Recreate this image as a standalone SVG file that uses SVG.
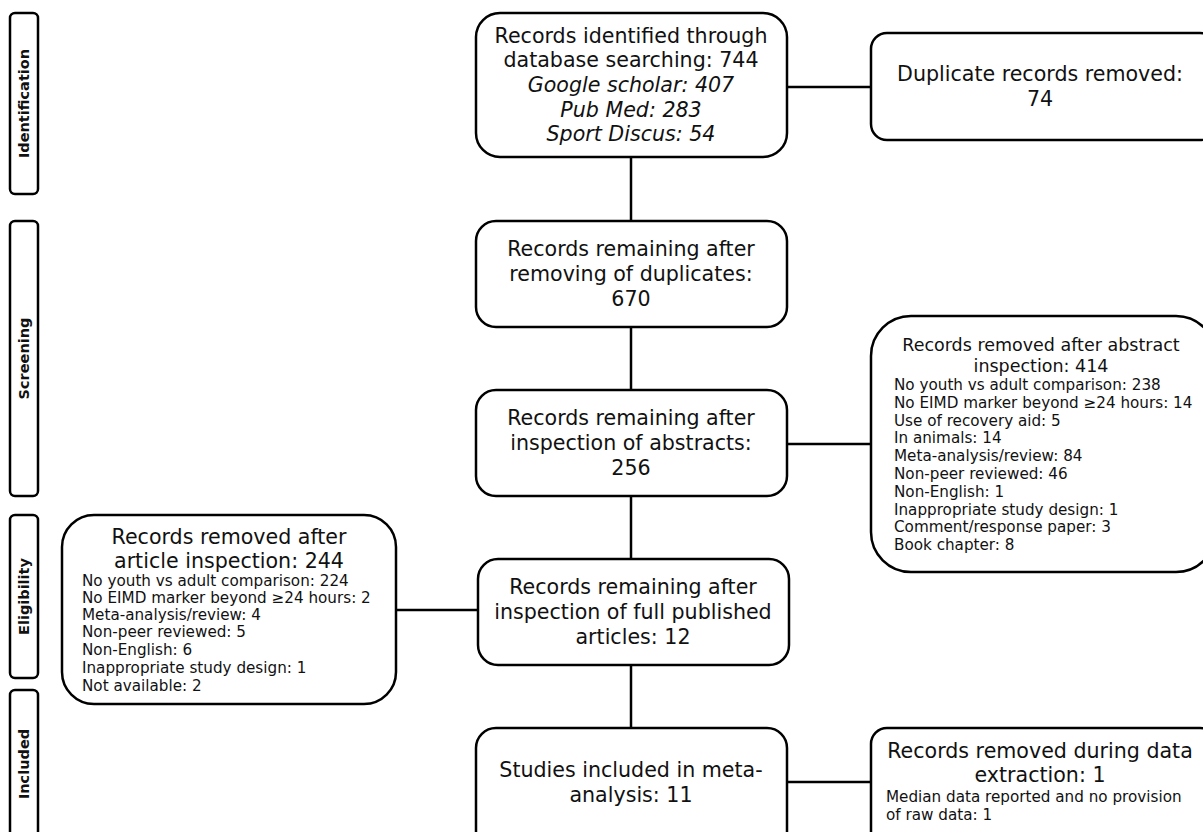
<svg xmlns="http://www.w3.org/2000/svg" width="1203" height="832" viewBox="0 0 1203 832">
<style>
  .box{fill:#fff;stroke:#000;stroke-width:2.5}
  .lab{fill:#fff;stroke:#000;stroke-width:2.5}
  .conn line{stroke:#000;stroke-width:2.5}
  text{font-family:"DejaVu Sans",Verdana,sans-serif;fill:#111}
  .m{font-size:20.6px;text-anchor:middle}
  .i{font-style:italic}
  .s{font-size:15.2px}
  .t17{font-size:17.5px;text-anchor:middle}
  .side{font-size:14.5px;font-weight:bold;text-anchor:middle}
</style>
<rect width="1203" height="832" fill="#fff"/>
<g id="conn" class="conn">
  <line x1="631" y1="157" x2="631" y2="221"/>
  <line x1="631" y1="327" x2="631" y2="390"/>
  <line x1="631" y1="496" x2="631" y2="559"/>
  <line x1="631" y1="665" x2="631" y2="728"/>
  <line x1="787" y1="87" x2="871" y2="87"/>
  <line x1="787" y1="444" x2="871" y2="444"/>
  <line x1="396" y1="610" x2="478" y2="610"/>
  <line x1="787" y1="782" x2="871" y2="782"/>
</g>
<g id="lab-identification">
  <rect class="lab" x="10" y="13" width="28" height="181" rx="5"/>
  <text class="side" transform="translate(29,103.5) rotate(-90)">Identification</text>
</g>
<g id="lab-screening">
  <rect class="lab" x="10" y="221" width="28" height="275" rx="5"/>
  <text class="side" transform="translate(29,358.5) rotate(-90)">Screening</text>
</g>
<g id="lab-eligibility">
  <rect class="lab" x="10" y="515" width="28" height="163" rx="5"/>
  <text class="side" transform="translate(29,596.5) rotate(-90)">Eligibility</text>
</g>
<g id="lab-included">
  <rect class="lab" x="10" y="690" width="28" height="160" rx="5"/>
  <text class="side" transform="translate(29,764) rotate(-90)">Included</text>
</g>
<g id="n-identified">
  <rect class="box" x="476" y="13" width="311" height="144" rx="24"/>
  <text class="m" x="631" y="43">Records identified through</text>
  <text class="m" x="631" y="67">database searching: 744</text>
  <text class="m i" x="631" y="92">Google scholar: 407</text>
  <text class="m i" x="631" y="117">Pub Med: 283</text>
  <text class="m i" x="631" y="141">Sport Discus: 54</text>
</g>
<g id="n-duplicates">
  <rect class="box" x="871" y="33" width="345" height="107" rx="16"/>
  <text class="m" x="1040" y="81">Duplicate records removed:</text>
  <text class="m" x="1040" y="106">74</text>
</g>
<g id="n-after-dup">
  <rect class="box" x="476" y="221" width="311" height="106" rx="20"/>
  <text class="m" x="631" y="256">Records remaining after</text>
  <text class="m" x="631" y="281">removing of duplicates:</text>
  <text class="m" x="631" y="306">670</text>
</g>
<g id="n-after-abs">
  <rect class="box" x="476" y="390" width="311" height="106" rx="20"/>
  <text class="m" x="631" y="425">Records remaining after</text>
  <text class="m" x="631" y="450">inspection of abstracts:</text>
  <text class="m" x="631" y="475">256</text>
</g>
<g id="n-abs-removed">
  <rect class="box" x="871" y="316" width="345" height="256" rx="40"/>
  <text class="t17" x="1041" y="351">Records removed after abstract</text>
  <text class="t17" x="1041" y="372">inspection: 414</text>
  <text class="s" x="894" y="390">No youth vs adult comparison: 238</text>
  <text class="s" x="894" y="408">No EIMD marker beyond ≥24 hours: 14</text>
  <text class="s" x="894" y="426">Use of recovery aid: 5</text>
  <text class="s" x="894" y="443">In animals: 14</text>
  <text class="s" x="894" y="461">Meta-analysis/review: 84</text>
  <text class="s" x="894" y="479">Non-peer reviewed: 46</text>
  <text class="s" x="894" y="497">Non-English: 1</text>
  <text class="s" x="894" y="515">Inappropriate study design: 1</text>
  <text class="s" x="894" y="532">Comment/response paper: 3</text>
  <text class="s" x="894" y="550">Book chapter: 8</text>
</g>
<g id="n-article-removed">
  <rect class="box" x="62" y="515" width="334" height="189" rx="32"/>
  <text class="m" x="229" y="544">Records removed after</text>
  <text class="m" x="229" y="568">article inspection: 244</text>
  <text class="s" x="82" y="586">No youth vs adult comparison: 224</text>
  <text class="s" x="82" y="603">No EIMD marker beyond ≥24 hours: 2</text>
  <text class="s" x="82" y="620">Meta-analysis/review: 4</text>
  <text class="s" x="82" y="637">Non-peer reviewed: 5</text>
  <text class="s" x="82" y="655">Non-English: 6</text>
  <text class="s" x="82" y="673">Inappropriate study design: 1</text>
  <text class="s" x="82" y="691">Not available: 2</text>
</g>
<g id="n-after-full">
  <rect class="box" x="478" y="559" width="311" height="106" rx="20"/>
  <text class="m" x="633" y="594">Records remaining after</text>
  <text class="m" x="633" y="619">inspection of full published</text>
  <text class="m" x="633" y="644">articles: 12</text>
</g>
<g id="n-included">
  <rect class="box" x="476" y="728" width="311" height="130" rx="20"/>
  <text class="m" x="631" y="777">Studies included in meta-</text>
  <text class="m" x="631" y="802">analysis: 11</text>
</g>
<g id="n-extraction">
  <rect class="box" x="871" y="728" width="345" height="130" rx="16"/>
  <text class="m" x="1040" y="758">Records removed during data</text>
  <text class="m" x="1040" y="782">extraction: 1</text>
  <text class="s" x="886" y="802">Median data reported and no provision</text>
  <text class="s" x="886" y="820">of raw data: 1</text>
</g>
</svg>
